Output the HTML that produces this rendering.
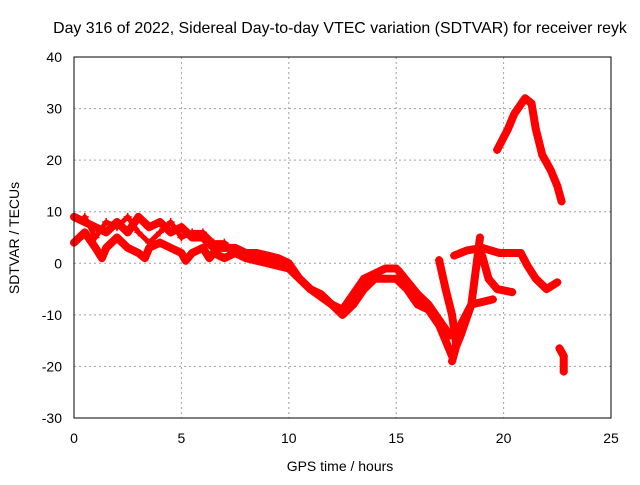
<!DOCTYPE html>
<html><head><meta charset="utf-8"><style>
body{margin:0;background:#fff}
svg text{font-family:"Liberation Sans",sans-serif;font-size:14px;fill:#000}
</style></head><body>
<svg id="c" width="640" height="480">
<text x="340" y="33" text-anchor="middle" style="font-size:15.9px">Day 316 of 2022, Sidereal Day-to-day VTEC variation (SDTVAR) for receiver reyk</text>
<text x="340" y="471" text-anchor="middle">GPS time / hours</text>
<text transform="translate(19,238) rotate(-90)" text-anchor="middle">SDTVAR / TECUs</text>
<g id="grid"></g><g id="marks"></g>
<rect x="74" y="57" width="537" height="361" fill="none" stroke="#000"/>
</svg>
<script>
const xTicks=[0,5,10,15,20,25];
const yTicks=[-30,-20,-10,0,10,20,30,40];
const s1=[[0,9],[0.5,8],[1,7],[1.5,6],[2,8],[2.5,6],[3,9],[3.5,7],[4,8],[4.5,6],[5,7],[5.5,5],[6,5],[6.5,3],[7,3],[7.5,3],[8,2],[8.5,2],[9,1.5],[9.5,1],[10,0],[10.5,-3],[11,-5],[11.5,-6],[12,-8],[12.5,-9],[13,-6],[13.5,-3],[14,-2],[14.5,-1],[15,-1]];
const s2=[[0,4],[0.5,6],[1,3],[1.3,1],[1.5,3],[2,5],[2.5,3],[3,2],[3.3,1],[3.5,3],[4,4],[4.5,3],[5,2],[5.2,0.5],[5.5,2],[6,3],[6.3,1],[6.5,2],[7,1],[7.5,2],[8,1],[9,0],[10,-1],[11,-5],[12,-8],[12.5,-10],[13,-8],[13.5,-5],[14,-3],[14.5,-3],[15,-3],[15.5,-5],[16,-8],[16.5,-9],[17,-12],[17.3,-15],[17.6,-18],[18,-14],[18.5,-8],[18.9,5]];
const s3=[[15.1,-1.4],[16,-6],[16.5,-8],[17,-11],[17.5,-14],[18,-12],[18.5,-8],[19,-7.5],[19.5,-7]];
const s4=[[17,0.6],[17.3,-5],[17.6,-10],[17.8,-16],[17.6,-19]];
const s5=[[17.7,1.5],[18.3,2.5],[19,3],[19.8,2],[20.8,2],[21.1,-0.4],[21.5,-3],[22,-5],[22.5,-3.7]];
const s6=[[19,1.5],[19.3,-3],[19.7,-5],[20.4,-5.6]];
const s7=[[19.7,22],[20.2,26],[20.5,29],[21,32],[21.3,31],[21.5,26],[21.8,21],[22.2,18],[22.5,15],[22.7,12]];
const s8=[[22.6,-16.5],[22.8,-18],[22.8,-21]];
const s9=[[0.5,9],[1,5],[1.5,8],[2,7],[2.5,9],[3,6],[3.5,4],[4,6],[4.5,8],[5,5],[5.5,6],[6,6],[6.5,4],[7,4],[7.5,2]];
const X=h=>74+h*537/25, Y=v=>418-(v+30)*361/70;
const NS='http://www.w3.org/2000/svg';
const g=document.getElementById('grid'), m=document.getElementById('marks'), svg=document.getElementById('c');
xTicks.forEach(t=>{
 const l=document.createElementNS(NS,'line');
 l.setAttribute('x1',X(t));l.setAttribute('x2',X(t));l.setAttribute('y1',57);l.setAttribute('y2',418);
 l.setAttribute('stroke','#a0a0a0');l.setAttribute('stroke-dasharray','2,3');
 
 
 g.appendChild(l);
 const tx=document.createElementNS(NS,'text');
 tx.setAttribute('x',X(t));tx.setAttribute('y',443);tx.setAttribute('text-anchor','middle');tx.textContent=t;
 
 
 svg.appendChild(tx);
});
yTicks.forEach(t=>{
 const l=document.createElementNS(NS,'line');
 l.setAttribute('x1',74);l.setAttribute('x2',611);l.setAttribute('y1',Y(t));l.setAttribute('y2',Y(t));
 l.setAttribute('stroke','#a0a0a0');l.setAttribute('stroke-dasharray','2,3');
 
 
 g.appendChild(l);
 const tx=document.createElementNS(NS,'text');
 tx.setAttribute('x',62);tx.setAttribute('y',Y(t)+5);tx.setAttribute('text-anchor','end');tx.textContent=t;
 
 
 svg.appendChild(tx);
});
[s1,s2,s3,s4,s5,s6,s7,s8,s9].forEach((s,i)=>{
 const p=document.createElementNS(NS,'polyline');
 p.setAttribute('points',s.map(d=>X(d[0])+','+Y(d[1])).join(' '));
 p.setAttribute('fill','none');p.setAttribute('stroke','#ff0000');p.setAttribute('stroke-width',i==8?5:8);
 p.setAttribute('stroke-linejoin','round');p.setAttribute('stroke-linecap','round');
 
 
 m.appendChild(p);
 s.forEach(d=>{
  const c=document.createElementNS(NS,'path');
  const x=X(d[0]),y=Y(d[1]);
  c.setAttribute('d',`M${x-4},${y}H${x+4}M${x},${y-4}V${y+4}`);
  c.setAttribute('stroke','#ff0000');c.setAttribute('stroke-width',1.5);
  
  
  m.appendChild(c);
 });
});
</script>
</body></html>
